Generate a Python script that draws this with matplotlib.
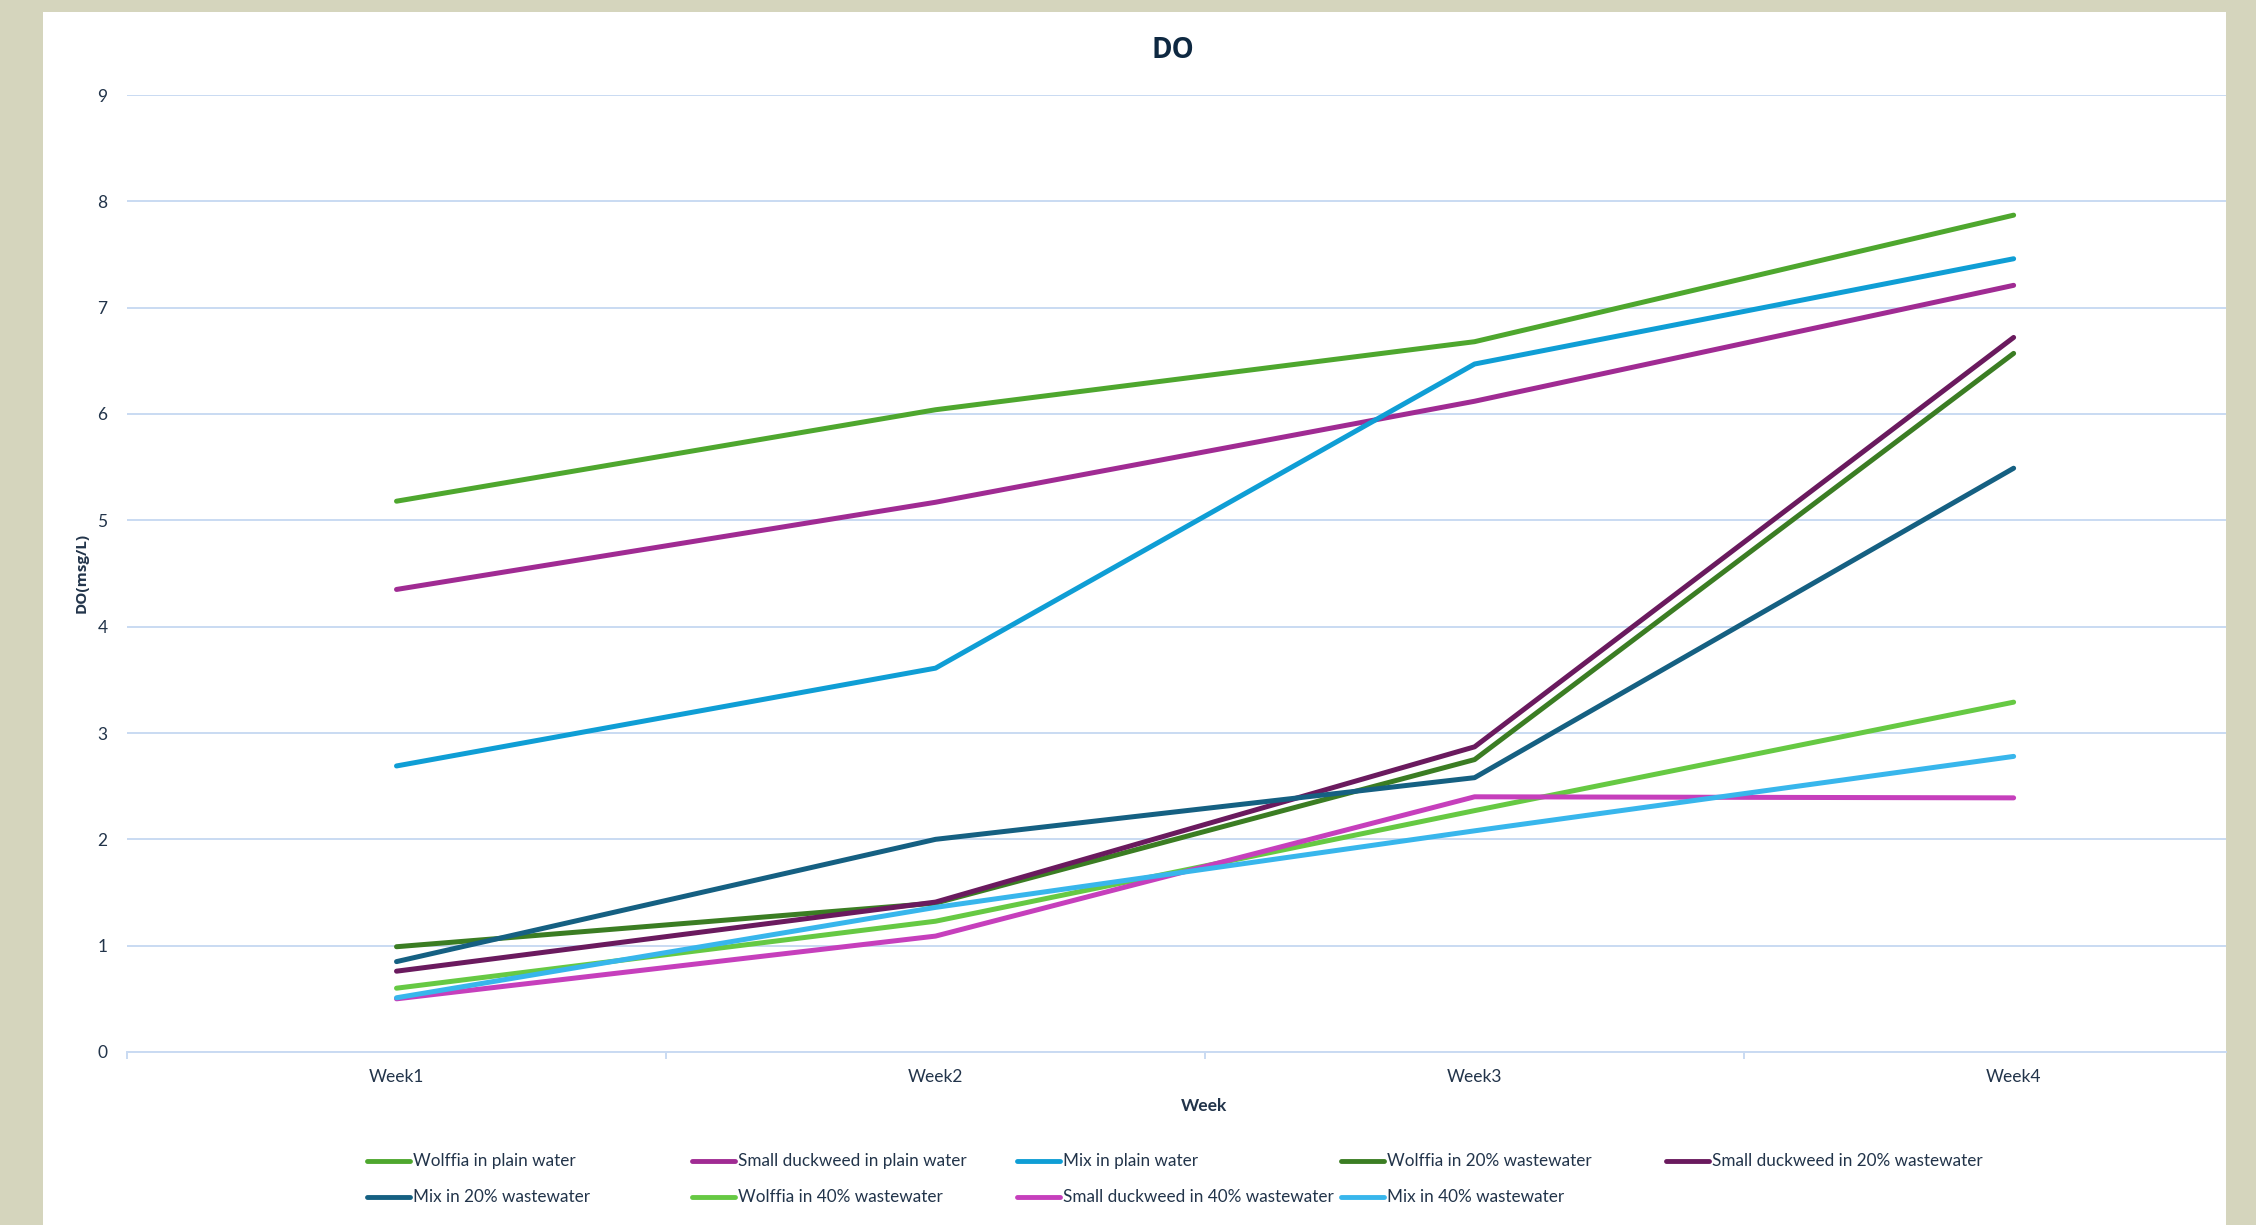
import matplotlib
matplotlib.use("Agg")
import matplotlib.pyplot as plt
from matplotlib.patches import Rectangle
from matplotlib.lines import Line2D

weeks = ["Week1", "Week2", "Week3", "Week4"]

wolffia_plain = [5.18, 6.04, 6.68, 7.87]
duckweed_plain = [4.35, 5.17, 6.12, 7.21]
mix_plain = [2.69, 3.61, 6.47, 7.46]
wolffia_20 = [0.99, 1.40, 2.75, 6.57]
duckweed_20 = [0.76, 1.41, 2.87, 6.72]
mix_20 = [0.85, 2.00, 2.58, 5.49]
wolffia_40 = [0.60, 1.23, 2.27, 3.29]
duckweed_40 = [0.50, 1.09, 2.40, 2.39]
mix_40 = [0.51, 1.36, 2.08, 2.78]

series_names = [
    "Wolffia in plain water",
    "Small duckweed in plain water",
    "Mix in plain water",
    "Wolffia in 20% wastewater",
    "Small duckweed in 20% wastewater",
    "Mix in 20% wastewater",
    "Wolffia in 40% wastewater",
    "Small duckweed in 40% wastewater",
    "Mix in 40% wastewater",
]
series_values = [wolffia_plain, duckweed_plain, mix_plain,
                 wolffia_20, duckweed_20, mix_20,
                 wolffia_40, duckweed_40, mix_40]
colors = ["#4EA72E", "#A02B93", "#0F9ED5",
          "#3B7D23", "#6A1A5E", "#156082",
          "#66C943", "#C63FBC", "#38B6EC"]

text_col = "#22344A"
grid_col = "#C9DAF2"

fig = plt.figure(figsize=(22.56, 12.25), dpi=100)
fig.patch.set_facecolor("#D5D5BD")
# white chart card, behind the axes
fig.patches.append(Rectangle((43 / 2256, 0), (2226 - 43) / 2256, 1 - 12 / 1225,
                             transform=fig.transFigure, facecolor="white",
                             edgecolor="none", zorder=-10))

ax = fig.add_axes([127 / 2256, 1 - 1052 / 1225, (2226 - 127) / 2256, (1052 - 95) / 1225])
ax.set_facecolor("none")

x = range(1, len(weeks) + 1)
for name, vals, c in zip(series_names, series_values, colors):
    ax.plot(x, vals, color=c, lw=3.6, solid_capstyle="round", solid_joinstyle="round",
            label=name, zorder=3)

ax.set_yticks(range(0, 10))
ax.set_xticks(list(x))
ax.set_xticklabels(weeks)
ax.set_xticks([0.5, 1.5, 2.5, 3.5], minor=True)
# limits after the ticks, otherwise set_xticks widens them
ax.set_xlim(0.5, 4.394)
ax.set_ylim(0, 9)
ax.grid(axis="y", color=grid_col, lw=1.4, zorder=1)
for s in ["top", "right", "left"]:
    ax.spines[s].set_visible(False)
ax.spines["bottom"].set_color(grid_col)
ax.spines["bottom"].set_linewidth(1.4)
ax.tick_params(axis="y", length=0, pad=14, labelsize=12.5, labelcolor=text_col)
ax.tick_params(axis="x", which="major", length=0, pad=12, labelsize=12.5, labelcolor=text_col)
ax.tick_params(axis="x", which="minor", length=5, width=1.4, color=grid_col)
for lab in ax.get_xticklabels() + ax.get_yticklabels():
    lab.set_family(["Lato", "DejaVu Sans"])

fig.text(1173 / 2256, 1 - 51 / 1225, "DO", ha="center", va="center", fontsize=20,
         fontweight="bold", color="#0E2841", family=["Open Sans", "DejaVu Sans"])
fig.text(82 / 2256, 1 - 573 / 1225, "DO(msg/L)", rotation=90, ha="center", va="center",
         fontsize=11, fontweight="bold", color=text_col, family=["Open Sans", "DejaVu Sans"])
fig.text(1204 / 2256, 1 - 1106 / 1225, "Week", ha="center", va="center", fontsize=12.5,
         fontweight="bold", color=text_col, family=["Lato", "DejaVu Sans"])

# legend laid out like the original, 5 fixed-width columns
for i, (name, c) in enumerate(zip(series_names, colors)):
    row, col = divmod(i, 5)
    y = 1 - (1161 + row * 36) / 1225
    x0 = 367 + col * 324.8
    fig.add_artist(Line2D([x0 / 2256, (x0 + 43) / 2256], [y, y], transform=fig.transFigure,
                          color=c, lw=3.5, solid_capstyle="round"))
    fig.text((x0 + 46) / 2256, y, name, ha="left", va="center", fontsize=12.3,
             color=text_col, family=["Lato", "DejaVu Sans"])

fig.savefig("out.png", dpi=100, facecolor=fig.get_facecolor())
